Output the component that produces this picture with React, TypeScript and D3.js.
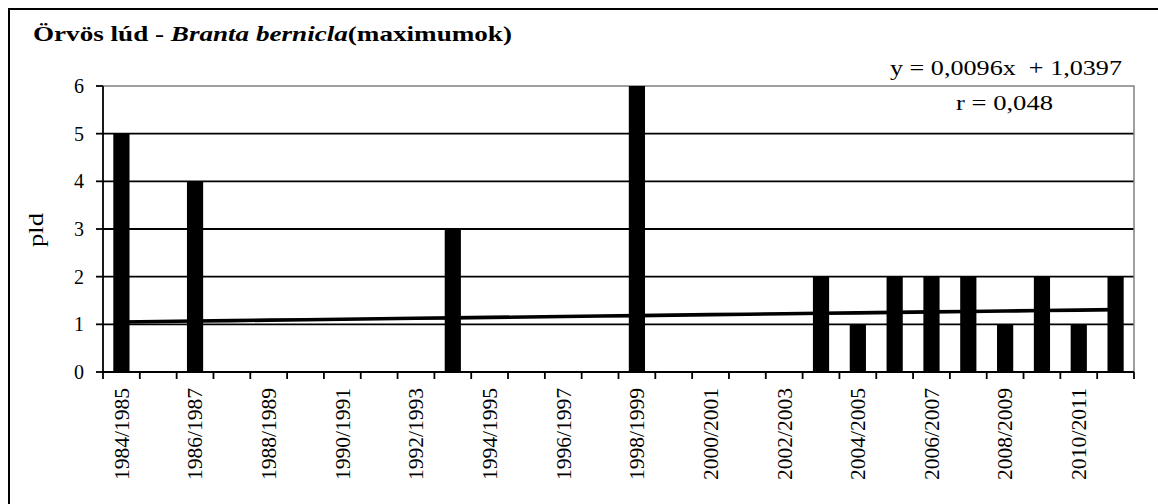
import React from "react";
import * as d3 from "d3";

const seasons: string[] = [
  "1984/1985", "1985/1986", "1986/1987", "1987/1988", "1988/1989", "1989/1990", "1990/1991",
  "1991/1992", "1992/1993", "1993/1994", "1994/1995", "1995/1996", "1996/1997", "1997/1998",
  "1998/1999", "1999/2000", "2000/2001", "2001/2002", "2002/2003", "2003/2004", "2004/2005",
  "2005/2006", "2006/2007", "2007/2008", "2008/2009", "2009/2010", "2010/2011", "2011/2012",
];
const maxima: number[] = [5, 0, 4, 0, 0, 0, 0, 0, 0, 3, 0, 0, 0, 0, 6, 0, 0, 0, 0, 2, 1, 2, 2, 2, 1, 2, 1, 2];
const yTicks: number[] = [0, 1, 2, 3, 4, 5, 6];
const trendSlope = 0.0096;
const trendIntercept = 1.0397;
const equationText = "y = 0,0096x  + 1,0397";
const rText = "r = 0,048";

const W = 1158;
const H = 504;
const left = 103;
const right = 1134;
const top = 86;
const bottom = 372;
const serif = "'Liberation Serif', 'Times New Roman', serif";

export default function App() {
  const x = d3.scaleBand<string>().domain(seasons).range([left, right]).paddingInner(0.56).paddingOuter(0.28);
  const xb = d3.scaleBand<string>().domain(seasons).range([left, right]);
  const y = d3.scaleLinear().domain([0, 6]).range([bottom, top]);
  const trend = d3
    .line<string>()
    .x((d) => (xb(d) as number) + xb.bandwidth() / 2)
    .y((_, i) => y(trendSlope * (i + 1) + trendIntercept));
  const boundaries = [...seasons.map((s) => xb(s) as number), right];

  return (
    <svg width={W} height={H} style={{ position: "absolute", left: 0, top: 0, background: "#fff" }}>
      <rect x={9} y={9} width={W + 10} height={H + 10} fill="#fff" stroke="#000" strokeWidth={2} />
      <text
        x={33}
        y={41}
        fontFamily={serif}
        fontWeight="bold"
        fontSize={22}
        fill="#000"
        textLength={479}
        lengthAdjust="spacingAndGlyphs"
      >
        Örvös lúd - <tspan fontStyle="italic">Branta bernicla</tspan>(maximumok)
      </text>
      {/* gridlines */}
      {yTicks.filter((t) => t > 0 && t < 6).map((t) => (
        <line key={t} x1={left} x2={right} y1={y(t)} y2={y(t)} stroke="#000" strokeWidth={1.8} />
      ))}
      {/* plot border top/right */}
      <path d={`M${left},${y(6)}H${right}V${bottom}`} fill="none" stroke="#808080" strokeWidth={1.5} />
      {/* bars */}
      {seasons.map((s, i) =>
        maxima[i] > 0 ? (
          <rect key={s} x={x(s)} y={y(maxima[i])} width={x.bandwidth()} height={bottom - y(maxima[i])} fill="#000" />
        ) : null
      )}
      {/* trend line */}
      <path d={trend(seasons) as string} fill="none" stroke="#000" strokeWidth={3.6} />
      {/* axes */}
      <line x1={left} x2={left} y1={top} y2={bottom} stroke="#000" strokeWidth={1.8} />
      <line x1={left} x2={right} y1={bottom} y2={bottom} stroke="#000" strokeWidth={1.8} />
      {yTicks.map((t) => (
        <g key={t}>
          <line x1={left - 7} x2={left} y1={y(t)} y2={y(t)} stroke="#000" strokeWidth={1.8} />
          <text x={84} y={y(t)} dy="0.35em" textAnchor="end" fontFamily={serif} fontSize={20} fill="#000">
            {t}
          </text>
        </g>
      ))}
      {boundaries.map((b, i) => (
        <line key={i} x1={b} x2={b} y1={bottom} y2={bottom + 7} stroke="#000" strokeWidth={1.8} />
      ))}
      {seasons.map((s, i) =>
        i % 2 === 0 ? (
          <text
            key={s}
            transform={`translate(${(xb(s) as number) + xb.bandwidth() / 2},388) rotate(-90)`}
            dy="0.35em"
            textAnchor="end"
            fontFamily={serif}
            fontSize={21}
            fill="#000"
            textLength={92}
            lengthAdjust="spacingAndGlyphs"
          >
            {s}
          </text>
        ) : null
      )}
      <text
        transform="translate(43,230) rotate(-90)"
        textAnchor="middle"
        fontFamily={serif}
        fontSize={21}
        fill="#000"
        textLength={34}
        lengthAdjust="spacingAndGlyphs"
      >
        pld
      </text>
      <text
        x={1122}
        y={75}
        textAnchor="end"
        fontFamily={serif}
        fontSize={21}
        fill="#000"
        style={{ whiteSpace: "pre" }}
        textLength={232}
        lengthAdjust="spacingAndGlyphs"
      >
        {equationText}
      </text>
      <text
        x={1053}
        y={110}
        textAnchor="end"
        fontFamily={serif}
        fontSize={21}
        fill="#000"
        textLength={97}
        lengthAdjust="spacingAndGlyphs"
      >
        {rText}
      </text>
    </svg>
  );
}
